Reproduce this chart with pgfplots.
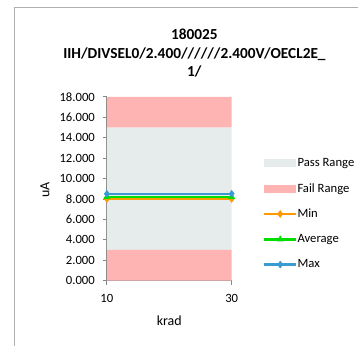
\documentclass[border=0pt]{standalone}
\usepackage{pgfplots}
\pgfplotsset{compat=1.18}
\usepackage{fontspec}
\setmainfont{Carlito}
\definecolor{passc}{RGB}{230,236,236}
\definecolor{failc}{RGB}{255,180,180}
\definecolor{minc}{RGB}{255,153,0}
\definecolor{avgc}{RGB}{0,222,0}
\definecolor{maxc}{RGB}{58,154,210}
\definecolor{axc}{RGB}{134,134,134}
\begin{document}
\begin{tikzpicture}
\path (0,0) rectangle (268.5pt,259.5pt);
\draw[color={rgb,255:red,175;green,175;blue,175}, line width=0.75pt] (11.25pt,0pt) -- (11.25pt,253.5pt) -- (268.5pt,253.5pt);
\node[align=center, font=\fontsize{11.5}{13.9}\selectfont\bfseries] at (146pt,219.5pt) {180025\\IIH/DIVSEL0/2.400//////2.400V/OECL2E\_\\1/};
\begin{axis}[
  at={(80.25pt,48.75pt)}, anchor=south west,
  scale only axis, width=93.75pt, height=138pt,
  xmin=10, xmax=30, ymin=0, ymax=18,
  xtick={10,30}, ytick={0,2,...,18},
  axis lines*=left,
  axis line style={draw=axc, line width=0.6pt, -},
  tick style={draw=axc, line width=0.6pt},
  tick align=outside, major tick length=3pt,
  /pgf/number format/assume math mode=true,
  yticklabel={\pgfmathprintnumber[fixed,fixed zerofill,precision=3]{\tick}},
  xticklabel={\pgfmathprintnumber{\tick}},
  tick label style={font=\fontsize{9.5}{11}\selectfont},
  xticklabel style={yshift=-3.5pt},
  yticklabel style={xshift=-2.5pt},
  label style={font=\fontsize{10.5}{12}\selectfont},
  xlabel={krad}, ylabel={uA},
  xlabel style={at={(axis description cs:0.5,-0.2174)}, anchor=center},
  ylabel style={at={(axis description cs:-0.496,0.495)}, anchor=center},
  legend style={draw=none, fill=none, at={(axis description cs:1.248,0.672)}, anchor=north west,
    font=\fontsize{9.5}{11}\selectfont, inner sep=0pt, row sep=10pt,
    nodes={inner sep=0pt, text height=7pt, text depth=2pt},
    /tikz/every even column/.append style={column sep=2.25pt}},
  legend cell align=left,
  legend image code/.code={\draw[mark repeat=2,mark phase=2,#1] plot coordinates {(0pt,0pt)(12pt,0pt)(24pt,0pt)};},
]
\addplot[draw=none, fill=passc, area legend, legend image code/.code={\fill[passc] (0pt,-3pt) rectangle (24pt,3pt);}] coordinates {(10,3) (30,3) (30,15) (10,15) (10,3)};
\addlegendentry{Pass Range}
\addplot[draw=none, fill=failc, area legend, legend image code/.code={\fill[failc] (0pt,-3pt) rectangle (24pt,3pt);}] coordinates {(10,15) (30,15) (30,18) (10,18) (10,15)};
\addlegendentry{Fail Range}
\addplot[draw=none, fill=failc, forget plot] coordinates {(10,0) (30,0) (30,3) (10,3) (10,0)};
\addplot[color=minc, line width=2pt, mark=diamond*, mark size=2.5pt, mark options={solid, line width=0.5pt}] coordinates {(10,8.0) (30,8.0)};
\addlegendentry{Min}
\addplot[color=avgc, line width=2pt, mark=triangle*, mark size=2.5pt, mark options={solid, line width=0.5pt}] coordinates {(10,8.2) (30,8.2)};
\addlegendentry{Average}
\addplot[color=maxc, line width=2pt, mark=diamond*, mark size=2.5pt, mark options={solid, line width=0.5pt}] coordinates {(10,8.5) (30,8.5)};
\addlegendentry{Max}
\end{axis}
\end{tikzpicture}
\end{document}
